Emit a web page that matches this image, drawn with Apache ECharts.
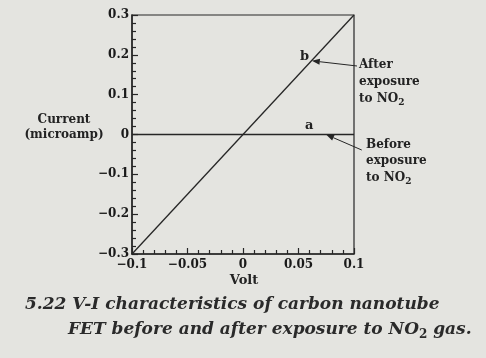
<!DOCTYPE html>
<html><head><meta charset="utf-8">
<script src="https://cdn.jsdelivr.net/npm/echarts@6/dist/echarts.min.js"></script>
<style>html,body{margin:0;padding:0;background:#e4e4e0}#c{width:486px;height:358px}</style>
</head><body><div id="c"></div>
<script>
const voltage = [-0.1, 0.1];
const currentBefore = [0, 0];
const currentAfter = [-0.3, 0.3];
const arrowAfter = [[0.1027, 0.172], [0.062, 0.185]];
const arrowBefore = [[0.107, -0.039], [0.0748, 0]];

const ink = '#262626';
const serif = 'DejaVu Serif';
const fmt = v => {
  if (Math.abs(v) < 1e-9) return '0';
  const s = String(+v.toFixed(2));
  return s.replace('-', '\u2212');
};

const chart = echarts.init(document.getElementById('c'), null, {renderer: 'canvas'});
chart.setOption({
  backgroundColor: '#e4e4e0',
  animation: false,
  grid: {left: 132, right: 132, top: 15, bottom: 104, show: true, borderColor: ink, borderWidth: 1.2, backgroundColor: 'transparent'},
  xAxis: {
    type: 'value', min: -0.1, max: 0.1, interval: 0.05,
    axisLine: {show: true, onZero: false, lineStyle: {color: ink, width: 1.5}},
    axisTick: {show: true, inside: true, length: 6, lineStyle: {color: ink, width: 1.2}},
    minorTick: {show: true, splitNumber: 5, length: 4, lineStyle: {color: ink, width: 1.2}},
    splitLine: {show: false},
    axisLabel: {color: '#1a1a1a', fontFamily: serif, fontWeight: 'bold', fontSize: 12, margin: 5, formatter: fmt}
  },
  yAxis: {
    type: 'value', min: -0.3, max: 0.3, interval: 0.1,
    axisLine: {show: true, onZero: false, lineStyle: {color: ink, width: 1.5}},
    axisTick: {show: true, inside: true, length: 6, lineStyle: {color: ink, width: 1.2}},
    minorTick: {show: true, splitNumber: 5, length: 4, lineStyle: {color: ink, width: 1.2}},
    splitLine: {show: false},
    axisLabel: {color: '#1a1a1a', fontFamily: serif, fontWeight: 'bold', fontSize: 12, margin: 3, formatter: fmt}
  },
  series: [
    {
      name: 'Before exposure', type: 'line', symbol: 'none',
      data: voltage.map((v, i) => [v, currentBefore[i]]),
      lineStyle: {color: ink, width: 1.3}
    },
    {
      name: 'After exposure', type: 'line', symbol: 'none',
      data: voltage.map((v, i) => [v, currentAfter[i]]),
      lineStyle: {color: ink, width: 1.3}
    }
  ]
});

function arrow(pair) {
  const a = chart.convertToPixel({gridIndex: 0}, pair[0]);
  const b = chart.convertToPixel({gridIndex: 0}, pair[1]);
  const ang = Math.atan2(b[1] - a[1], b[0] - a[0]);
  const L = 8, W = 3;
  const bx = b[0] - L * Math.cos(ang), by = b[1] - L * Math.sin(ang);
  const nx = -Math.sin(ang) * W, ny = Math.cos(ang) * W;
  return [
    {type: 'line', shape: {x1: a[0], y1: a[1], x2: bx, y2: by}, style: {stroke: ink, lineWidth: 1}},
    {type: 'polygon', shape: {points: [[b[0], b[1]], [bx + nx, by + ny], [bx - nx, by - ny]]}, style: {fill: ink}}
  ];
}

const F = 'bold 12px "DejaVu Serif"';
const txt = (x, y, text, extra) => Object.assign({
  type: 'text', x: x, y: y,
  style: Object.assign({text: text, fill: '#222', font: F, textAlign: 'left', textVerticalAlign: 'middle'}, extra || {})
});
const rich = {sub: {fontSize: 9, fontFamily: serif, fontWeight: 'bold', padding: [8, 0, 0, 0], fill: '#222'}};
chart.setOption({
  graphic: [].concat(arrow(arrowAfter), arrow(arrowBefore), [
    txt(64, 120, 'Current', {textAlign: 'center'}),
    txt(64, 135, '(microamp)', {textAlign: 'center'}),
    txt(244, 281, 'Volt', {textAlign: 'center', font: 'bold 13px "DejaVu Serif"'}),
    txt(300, 57, 'b', {font: 'bold 13px "DejaVu Serif"'}),
    txt(305, 126, 'a', {font: 'bold 13px "DejaVu Serif"'}),
    txt(359, 65, 'After'),
    txt(359, 82, 'exposure'),
    {type: 'text', x: 359, y: 99, style: {text: 'to NO{sub|2}', rich: rich, fill: '#222', font: F, textVerticalAlign: 'middle'}},
    txt(366, 145, 'Before'),
    txt(366, 161, 'exposure'),
    {type: 'text', x: 366, y: 178, style: {text: 'to NO{sub|2}', rich: rich, fill: '#222', font: F, textVerticalAlign: 'middle'}},
    txt(25, 305, '5.22 V-I characteristics of carbon nanotube', {font: 'italic bold 17px "DejaVu Serif"', fill: '#2a2a2a'}),
    {type: 'text', x: 68, y: 330, style: {text: 'FET before and after exposure to NO{s|2} gas.', fill: '#2a2a2a', font: 'italic bold 17px "DejaVu Serif"', textVerticalAlign: 'middle',
      rich: {s: {fontSize: 12, fontFamily: serif, fontWeight: 'bold', padding: [10, 0, 0, 0], fill: '#2a2a2a'}}}}
  ])
});
</script></body></html>
